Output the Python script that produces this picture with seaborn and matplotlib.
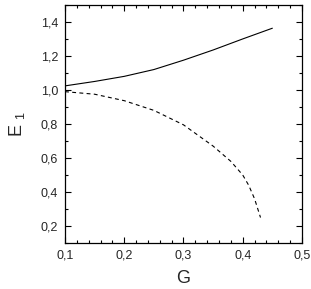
import numpy as np
import pandas as pd
import matplotlib
matplotlib.use("Agg")
import matplotlib.pyplot as plt
import seaborn as sns
from matplotlib.ticker import MultipleLocator, FuncFormatter

sns.set_style("ticks")
plt.rcParams["font.family"] = ["Liberation Sans", "DejaVu Sans"]
plt.rcParams["mathtext.fontset"] = "custom"
plt.rcParams["mathtext.rm"] = "Liberation Sans"
plt.rcParams["mathtext.it"] = "Liberation Sans"

# daten
g_solid = [0.10, 0.15, 0.20, 0.25, 0.30, 0.35, 0.40, 0.45]
e_solid = [1.024, 1.05, 1.08, 1.12, 1.175, 1.235, 1.30, 1.363]

g_dash = [0.10, 0.15, 0.20, 0.25, 0.30, 0.35, 0.38, 0.40, 0.41, 0.42, 0.43]
e_dash = [0.99, 0.975, 0.937, 0.88, 0.795, 0.67, 0.58, 0.50, 0.44, 0.36, 0.25]

df_solid = pd.DataFrame({"G": g_solid, "E1": e_solid})
df_dash = pd.DataFrame({"G": g_dash, "E1": e_dash})

fig = plt.figure(figsize=(3.11, 2.89), dpi=100)
ax = fig.add_axes([0.209, 0.159, 0.762, 0.824])

sns.lineplot(data=df_solid, x="G", y="E1", ax=ax, color="black", lw=0.8)
sns.lineplot(data=df_dash, x="G", y="E1", ax=ax, color="black", lw=0.8,
             linestyle=(0, (3.5, 3)))

ax.set_xlim(0.1, 0.5)
ax.set_ylim(0.1, 1.5)
ax.xaxis.set_major_locator(MultipleLocator(0.1))
ax.xaxis.set_minor_locator(MultipleLocator(0.02))
ax.yaxis.set_major_locator(MultipleLocator(0.2))
ax.yaxis.set_minor_locator(MultipleLocator(0.1))

komma = FuncFormatter(lambda v, p: f"{v:.1f}".replace(".", ","))
ax.xaxis.set_major_formatter(komma)
ax.yaxis.set_major_formatter(komma)

ax.tick_params(which="both", direction="in", top=True, right=True,
               labelsize=9, width=0.8, color="black")
ax.tick_params(which="major", length=4, pad=5)
ax.tick_params(which="minor", length=2.5)
for s in ax.spines.values():
    s.set_linewidth(0.9)
    s.set_color("black")

ax.set_xlabel("G", fontsize=13, labelpad=6)
ax.set_ylabel(r"E $\mathregular{_1}$", fontsize=13, labelpad=10)

fig.savefig("out.png", dpi=100)
